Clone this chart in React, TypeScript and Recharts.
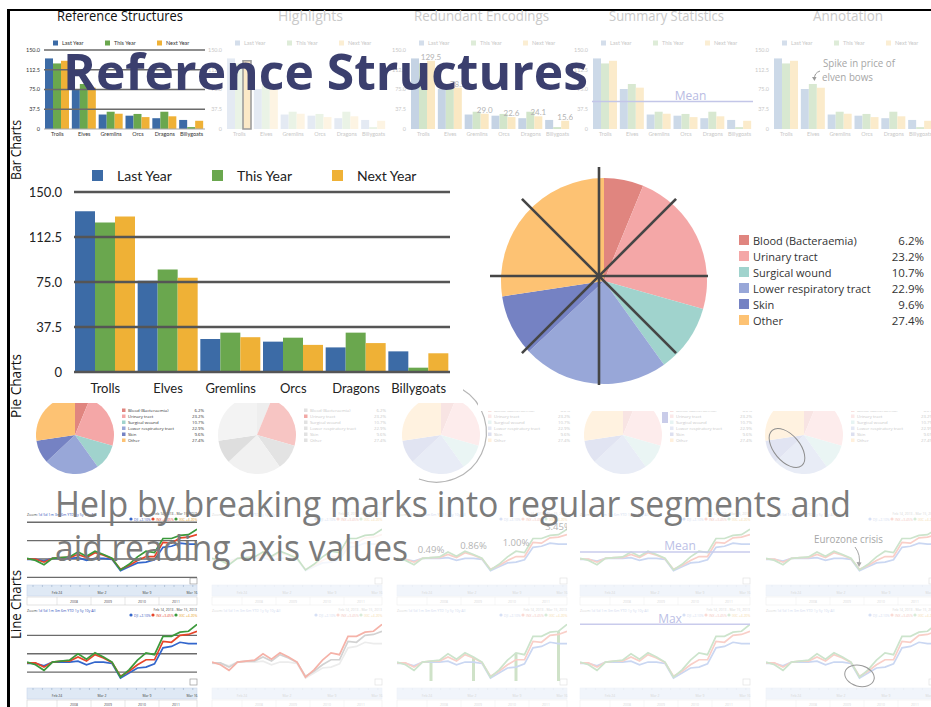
import React from 'react'
import {
  BarChart,
  Bar,
  XAxis,
  YAxis,
  ReferenceLine,
  ReferenceDot,
  LabelList,
  Cell,
  PieChart,
  Pie,
  LineChart,
  Line,
} from 'recharts'

// ---- bar data (creature sales) ----
const categories = ['Trolls', 'Elves', 'Gremlins', 'Orcs', 'Dragons', 'Billygoats']
const lastYear = [134, 76, 27.5, 25.3, 20.5, 17.2]
const thisYear = [124.5, 85.5, 32.8, 28.6, 32.8, 3.6]
const nextYear = [129.5, 78.5, 29.0, 22.6, 24.1, 15.6]
const seriesNames = ['Last Year', 'This Year', 'Next Year']
const yTicks = [0, 37.5, 75, 112.5, 150]
const meanValue = 52

// ---- pie data (infection sites) ----
const infections = ['Blood (Bacteraemia)', 'Urinary tract', 'Surgical wound', 'Lower respiratory tract', 'Skin', 'Other']
const shares = [6.2, 23.2, 10.7, 22.9, 9.6, 27.4]

// ---- line data (% change) ----
const dayLabels = ['Feb 14', 'Feb 15', 'Feb 19', 'Feb 20', 'Feb 21', 'Feb 22', 'Feb 25', 'Feb 26', 'Feb 27', 'Feb 28', 'Mar 1',
  'Mar 4', 'Mar 5', 'Mar 6', 'Mar 7', 'Mar 8', 'Mar 11', 'Mar 12', 'Mar 13', 'Mar 14', 'Mar 15']
const djiChange = [-0.05, -0.05, -0.3, 0.1, 0.1, 0.1, 0.2, -0.2, 0.1, 0.1, -0.05, -1.65, -1.1, -0.55, -0.45, -0.1, 1.65, 1.8, 2.25, 2.1, 2.1]
const inxChange = [0, 0, -0.45, 0.1, 0.2, 0.2, 0.65, 0.2, 0.9, 0.55, 0.05, -1.45, -0.9, -0.2, 0.35, 0.35, 2.35, 2.25, 3.0, 3.1, 3.45]
const ixicChange = [0.1, -0.2, -0.8, 0.1, 0.2, 0.3, 1.0, 0.4, 1.1, 0.65, 0.1, -1.55, -0.75, 0.3, 1.1, 0.9, 2.9, 2.9, 3.35, 3.45, 4.2]
const markedDays = [4, 9, 14, 19]
const markedText = ['0.49%', '0.86%', '1.00%', '3.45%']
const maxValue = 4.2
const lineMean = 1.0
const navDates = ['Feb 24', 'Mar 2', 'Mar 9', 'Mar 16']
const navYears = ['2008', '2009', '2010', '2011']

const barRows = categories.map((name, i) => ({ name, last: lastYear[i], this: thisYear[i], next: nextYear[i] }))
const pieRows = infections.map((name, i) => ({ name, value: shares[i] }))
const lineRows = dayLabels.map((day, i) => ({ day, dji: djiChange[i], inx: inxChange[i], ixic: ixicChange[i] }))

const BAR_COLORS = ['#3c6ba6', '#6aa74e', '#efb136']
const PIE_COLORS = ['#e0857f', '#f4a7a7', '#a0d3cd', '#98a7d8', '#7582c3', '#fdc273']
const LINE_COLORS = ['#3366cc', '#e6452a', '#3b993b']
const FONT = "'Open Sans', sans-serif"
const GILL = "Lato, sans-serif"

// blend a colour towards white
function mix(hex: string, t: number) {
  const n = parseInt(hex.slice(1), 16)
  const f = (c: number) => Math.round(c + (255 - c) * t)
  return `rgb(${f((n >> 16) & 255)},${f((n >> 8) & 255)},${f(n & 255)})`
}

const fmtTick = (v: number) => (v === 0 ? '0' : v.toFixed(1))

const barThumbX = [44, 226, 410, 592, 773]
const barVariants = ['ref', 'highlight', 'labels', 'mean', 'note']
const pieThumbX = [70, 252, 436, 618, 799]
const pieVariants = ['ref', 'highlight', 'labels', 'mean', 'note']
const lineThumbX = [27, 212, 397, 580, 766]
const lineGeo = [
  { zoomY: 516, plotTop: 520, plotBottom: 580, domain: [-2.97, 5.52], grid: [-2.6, 0, 2.6, 5.2], bandY: 585 },
  { zoomY: 612, plotTop: 620, plotBottom: 681, domain: [-1.96, 4.67], grid: [-1, 1, 3], bandY: 688 },
]
const lineVariants = [
  ['ref', 'hiGreen', 'labels', 'mean', 'note'],
  ['ref', 'hiRed', 'drops', 'max', 'circle'],
]

function BarThumb({ plotLeft, variant }: { plotLeft: number; variant: string }) {
  const faded = variant !== 'ref'
  const t = variant === 'highlight' ? 0.86 : variant === 'labels' ? 0.7 : 0.74
  const colors = faded ? BAR_COLORS.map((c) => mix(c, t)) : BAR_COLORS
  const text = faded ? '#c8c8c8' : '#333'
  return (
    <div style={{ position: 'absolute', left: plotLeft - 19, top: 36 }}>
      <BarChart width={182} height={106} data={barRows} margin={{ top: 14, right: 2, left: 4, bottom: 3 }} barCategoryGap={1} barGap={0}>
        <XAxis dataKey="name" interval={0} height={10} tickSize={2} tickMargin={1} tickLine={false}
          axisLine={faded ? false : { stroke: '#aaa' }} tick={{ fontSize: 5.5, fill: text, fontFamily: GILL }} />
        <YAxis domain={[0, 150]} ticks={yTicks} width={15} tickSize={3} tickMargin={1} tickLine={false} axisLine={false}
          tick={{ fontSize: 5.5, fill: text, fontFamily: GILL }} tickFormatter={fmtTick} />
        <Bar dataKey="last" fill={colors[0]} isAnimationActive={false} />
        <Bar dataKey="this" fill={colors[1]} isAnimationActive={false} />
        <Bar dataKey="next" fill={colors[2]} isAnimationActive={false}>
          {variant === 'highlight' && barRows.map((r, i) => (
            <Cell key={r.name} fill={i === 0 ? mix(BAR_COLORS[2], 0.72) : colors[2]} stroke={i === 0 ? '#9d9d9d' : 'none'} strokeWidth={1.6} />
          ))}
          {variant === 'labels' && (
            <LabelList dataKey="next" position="top" offset={1} fontSize={8} fill="#b3b3b3" fontFamily={GILL} formatter={(v: number) => v.toFixed(1)} />
          )}
        </Bar>
        {variant === 'ref' && yTicks.slice(1).map((v) => <ReferenceLine key={v} y={v} stroke="#6a6a6a" strokeWidth={1.3} />)}
        {variant === 'mean' && (
          <ReferenceLine y={meanValue} stroke="#c3c6e8" strokeWidth={1.5}
            label={{ value: 'Mean', position: 'top', offset: 2, dx: 18, fill: '#b8bbe3', fontSize: 12, fontFamily: FONT }} />
        )}
      </BarChart>
    </div>
  )
}

function PieThumb({ cx, variant }: { cx: number; variant: string }) {
  const grays = ['#eeeeee', '#f7c5c3', '#e3e3e3', '#f1f1f1', '#dedede', '#f3f3f3']
  const colors = variant === 'ref' ? PIE_COLORS : variant === 'highlight' ? grays : PIE_COLORS.map((c) => mix(c, 0.78))
  return (
    <div style={{ position: 'absolute', left: cx - 45, top: 388 }}>
      <PieChart width={92} height={86}>
        <Pie data={pieRows} dataKey="value" cx={45} cy={42} outerRadius={39} startAngle={90} endAngle={-270}
          stroke="none" isAnimationActive={false}>
          {pieRows.map((r, i) => <Cell key={r.name} fill={colors[i]} />)}
        </Pie>
      </PieChart>
    </div>
  )
}

function LineThumb({ x, geo, variant }: { x: number; geo: any; variant: string }) {
  let colors = LINE_COLORS
  if (variant === 'hiGreen') colors = [mix(LINE_COLORS[0], 0.94), mix(LINE_COLORS[1], 0.94), mix(LINE_COLORS[2], 0.72)]
  else if (variant === 'hiRed') colors = ['#ececec', '#d2d2d2', '#f5b2a8']
  else if (variant !== 'ref') colors = LINE_COLORS.map((c) => mix(c, 0.74))
  const keys = ['dji', 'inx', 'ixic']
  return (
    <div style={{ position: 'absolute', left: x, top: geo.plotTop - 8 }}>
      <LineChart width={170} height={geo.plotBottom - geo.plotTop + 20} data={lineRows} margin={{ top: 8, right: 0, bottom: 12, left: 0 }}>
        <XAxis dataKey="day" hide />
        <YAxis hide type="number" domain={geo.domain} allowDataOverflow />
        {variant === 'ref' && geo.grid.map((v: number) => <ReferenceLine key={v} y={v} stroke="#6b6b6b" strokeWidth={1.3} />)}
        {variant === 'drops' && markedDays.map((i) => (
          <ReferenceLine key={i} segment={[{ x: dayLabels[i], y: geo.domain[0] }, { x: dayLabels[i], y: ixicChange[i] }]}
            stroke="#cfe2c8" strokeWidth={3} ifOverflow="visible" />
        ))}
        {keys.map((k, i) => (
          <Line key={k} dataKey={k} stroke={colors[i]} strokeWidth={1.7} dot={false} isAnimationActive={false} />
        ))}
        {variant === 'labels' && markedDays.map((i, j) => (
          <ReferenceDot key={i} x={dayLabels[i]} y={ixicChange[i]} r={0} stroke="none"
            label={{ value: markedText[j], position: 'top', offset: 5, fill: '#b4b4b4', fontSize: 9.5, fontFamily: FONT }} />
        ))}
        {variant === 'mean' && (
          <ReferenceLine y={lineMean} stroke="#c9cbec" strokeWidth={1.5}
            label={{ value: 'Mean', position: 'top', offset: 2, dx: 15, fill: '#bcbfe6', fontSize: 12, fontFamily: FONT }} />
        )}
        {variant === 'max' && (
          <ReferenceLine y={maxValue} stroke="#c9cbec" strokeWidth={1.5}
            label={{ value: 'Max', position: 'top', offset: 1, dx: 5, fill: '#bcbfe6', fontSize: 12, fontFamily: FONT }} />
        )}
        {variant === 'circle' && (
          <ReferenceDot x={dayLabels[11]} y={-1.4} ifOverflow="visible"
            shape={(p: any) => (
              <ellipse cx={p.cx} cy={p.cy} rx={15} ry={10.5} fill="none" stroke="#9a9a9a" strokeWidth={1}
                transform={`rotate(15 ${p.cx} ${p.cy})`} />
            )} />
        )}
      </LineChart>
    </div>
  )
}

function lineChrome(x: number, geo: any, faded: boolean, key: string) {
  const blue = faded ? '#d4dcf0' : '#3355bb'
  const dark = faded ? '#d8d8d8' : '#444'
  const band = faded ? '#f1f5fb' : '#dfe9f5'
  return (
    <g key={key} fontFamily={FONT}>
      <text x={x} y={geo.zoomY} fontSize={3.6} fill={dark}>Zoom:</text>
      <text x={x + 11} y={geo.zoomY} fontSize={3.6} fill={blue}>1d 5d 1m 3m 6m YTD 1y 5y 10y All</text>
      <text x={x + 170} y={geo.zoomY - 1} fontSize={3.4} fill={dark} textAnchor="end">Feb 14, 2013 - Mar 15, 2013</text>
      <circle cx={x + 104} cy={geo.zoomY + 3} r={1.6} fill={faded ? mix(LINE_COLORS[0], 0.8) : LINE_COLORS[0]} />
      <text x={x + 107} y={geo.zoomY + 4.5} fontSize={3.4} fill={blue}>DJI +2.10%</text>
      <circle cx={x + 126} cy={geo.zoomY + 3} r={1.6} fill={faded ? mix(LINE_COLORS[1], 0.8) : LINE_COLORS[1]} />
      <text x={x + 129} y={geo.zoomY + 4.5} fontSize={3.4} fill={faded ? '#f3c7bd' : LINE_COLORS[1]}>INX +3.45%</text>
      <circle cx={x + 149} cy={geo.zoomY + 3} r={1.6} fill={faded ? mix(LINE_COLORS[2], 0.8) : LINE_COLORS[2]} />
      <text x={x + 152} y={geo.zoomY + 4.5} fontSize={3.4} fill={faded ? '#f6dcae' : '#e8a21b'}>IXIC +4.20%</text>
      <rect x={x + 163} y={geo.plotBottom - 2} width={7} height={6} fill="none" stroke={faded ? '#e2e2e2' : '#999'} strokeWidth={0.7} />
      <rect x={x} y={geo.bandY} width={170} height={11} fill={band} stroke={faded ? '#eef2f8' : '#c9d8ec'} strokeWidth={0.6} />
      {Array.from({ length: 18 }, (_, k) => (
        <line key={k} x1={x + 6 + k * 9.4} x2={x + 6 + k * 9.4} y1={geo.bandY} y2={geo.bandY + 2} stroke={faded ? '#e2e8f0' : '#8aa0bd'} strokeWidth={0.5} />
      ))}
      {navDates.map((d, k) => (
        <text key={d} x={x + 30 + k * 45} y={geo.bandY + 9} fontSize={3.4} fill={dark} textAnchor="middle">{d}</text>
      ))}
      <rect x={x} y={geo.bandY + 12} width={170} height={8} fill="#fff" stroke={faded ? '#eee' : '#cfcfcf'} strokeWidth={0.6} />
      {navYears.map((d, k) => (
        <g key={d}>
          <line x1={x + 30 + k * 34} x2={x + 30 + k * 34} y1={geo.bandY + 12} y2={geo.bandY + 20} stroke={faded ? '#eee' : '#ccc'} strokeWidth={0.5} />
          <text x={x + 47 + k * 34} y={geo.bandY + 18} fontSize={3.4} fill={dark} textAnchor="middle">{d}</text>
        </g>
      ))}
    </g>
  )
}

function Backdrop() {
  const headers = [
    { t: 'Reference Structures', x: 57, w: 126, c: '#111' },
    { t: 'Highlights', x: 278, w: 65, c: '#c9c9c9' },
    { t: 'Redundant Encodings', x: 414, w: 135, c: '#c9c9c9' },
    { t: 'Summary Statistics', x: 609, w: 115, c: '#c9c9c9' },
    { t: 'Annotation', x: 813, w: 70, c: '#c9c9c9' },
  ]
  const rowLabels = [
    { t: 'Bar Charts', y: 180, w: 60 },
    { t: 'Pie Charts', y: 418, w: 64 },
    { t: 'Line Charts', y: 639, w: 69 },
  ]
  return (
    <svg width={931} height={707} style={{ position: 'absolute', left: 0, top: 0 }}>
      <rect x={7} y={9} width={924} height={2} fill="#000" />
      <rect x={7} y={9} width={3} height={698} fill="#000" />
      {headers.map((h) => (
        <text key={h.t} x={h.x} y={21} fontSize={14} fill={h.c} fontFamily={FONT} textLength={h.w} lengthAdjust="spacingAndGlyphs">{h.t}</text>
      ))}
      {rowLabels.map((r) => (
        <text key={r.t} x={21} y={r.y} fontSize={14} fill="#111" fontFamily={FONT} textLength={r.w} lengthAdjust="spacingAndGlyphs"
          transform={`rotate(-90 21 ${r.y})`}>{r.t}</text>
      ))}
      {barThumbX.map((px, k) => (
        <g key={px} fontFamily={GILL}>
          {seriesNames.map((s, i) => (
            <g key={s}>
              <rect x={px + 9 + i * 52} y={40.5} width={5} height={5} fill={k === 0 ? BAR_COLORS[i] : mix(BAR_COLORS[i], 0.78)} />
              <text x={px + 18 + i * 52} y={45} fontSize={5.5} fill={k === 0 ? '#333' : '#c8c8c8'}>{s}</text>
            </g>
          ))}
        </g>
      ))}
      {pieThumbX.map((cx, k) => (
        <g key={cx} fontFamily={FONT}>
          {infections.map((n, i) => (
            <g key={n}>
              <rect x={cx + 52} y={408.5 + i * 6} width={3.5} height={3.5}
                fill={k === 0 ? PIE_COLORS[i] : k === 1 ? (i === 1 ? '#f2a9a6' : '#e2e2e2') : mix(PIE_COLORS[i], 0.75)} />
              <text x={cx + 58} y={411.8 + i * 6} fontSize={4.3} fill={k === 0 ? '#333' : '#cacaca'}>{n}</text>
              <text x={cx + 134} y={411.8 + i * 6} fontSize={4.3} fill={k === 0 ? '#333' : '#cacaca'} textAnchor="end">{shares[i].toFixed(1)}%</text>
            </g>
          ))}
        </g>
      ))}
      {lineGeo.map((g, r) => lineThumbX.map((x, k) => lineChrome(x, g, k !== 0, `${r}-${k}`)))}
    </svg>
  )
}

function Annotations() {
  return (
    <svg width={931} height={707} style={{ position: 'absolute', left: 0, top: 0, pointerEvents: 'none' }}>
      <g fontFamily={FONT} fill="#a6a6a6">
        <text x={823} y={67} fontSize={11.5} textLength={72} lengthAdjust="spacingAndGlyphs">Spike in price of</text>
        <text x={822} y={81} fontSize={11.5} textLength={51} lengthAdjust="spacingAndGlyphs">elven bows</text>
        <text x={814} y={543} fontSize={11.5} textLength={69} lengthAdjust="spacingAndGlyphs">Eurozone crisis</text>
      </g>
      <path d="M820 71 Q814 73 814.5 79" fill="none" stroke="#9a9a9a" strokeWidth={1} />
      <path d="M812 77 L814.5 81 L816.5 77 Z" fill="#9a9a9a" />
      <path d="M855 547 Q861 555 859 565" fill="none" stroke="#a6a6a6" strokeWidth={1} />
      <path d="M856.5 562 L859 567 L861.5 562.5 Z" fill="#a6a6a6" />
      <path d="M 461.8 389.1 A 50 50 0 0 1 418.9 479" fill="none" stroke="#b5b5b5" strokeWidth={1.2} />
      <rect x={662} y={412} width={6} height={11} fill="#c9cce9" />
      <ellipse cx={787} cy={448} rx={23} ry={13} fill="none" stroke="#8d8d8d" strokeWidth={1}
        transform="rotate(50 787 448)" />
    </svg>
  )
}

function MainBars() {
  return (
    <div style={{ position: 'absolute', left: 30, top: 153, width: 433, height: 250, background: '#fff' }}>
      <BarChart width={433} height={250} data={barRows} margin={{ top: 39, right: 13, left: 0, bottom: 0 }} barCategoryGap={1} barGap={0}>
        <XAxis dataKey="name" interval={0} height={31} tickMargin={6} tickLine={false}
          axisLine={{ stroke: '#555', strokeWidth: 2.5 }} tick={{ fontSize: 13, fill: '#222', fontFamily: GILL }} />
        <YAxis domain={[0, 150]} ticks={yTicks} width={44} tickMargin={6} tickLine={false} axisLine={false}
          tick={{ fontSize: 13, fill: '#222', fontFamily: GILL }} tickFormatter={fmtTick} />
        <Bar dataKey="last" fill={BAR_COLORS[0]} isAnimationActive={false} />
        <Bar dataKey="this" fill={BAR_COLORS[1]} isAnimationActive={false} />
        <Bar dataKey="next" fill={BAR_COLORS[2]} isAnimationActive={false} />
        {yTicks.slice(1).map((v) => <ReferenceLine key={v} y={v} stroke="#555" strokeWidth={2.5} />)}
      </BarChart>
      {seriesNames.map((s, i) => (
        <div key={s} style={{ position: 'absolute', left: 62 + i * 120, top: 10, height: 24, display: 'flex', alignItems: 'center', fontFamily: GILL, fontSize: 14, color: '#222' }}>
          <span style={{ width: 11, height: 11, background: BAR_COLORS[i], marginRight: 14 }} />
          {s}
        </div>
      ))}
    </div>
  )
}

function MainPie() {
  const cx = 121
  const cy = 123
  const spokes = [0, 45, 90, 135]
  return (
    <div style={{ position: 'absolute', left: 478, top: 153, width: 453, height: 258, background: '#fff' }}>
      <PieChart width={300} height={258}>
        <Pie data={pieRows} dataKey="value" cx={cx} cy={cy} outerRadius={103} startAngle={90} endAngle={-270}
          stroke="none" isAnimationActive={false}>
          {pieRows.map((r, i) => <Cell key={r.name} fill={PIE_COLORS[i]} />)}
        </Pie>
      </PieChart>
      <svg width={300} height={258} style={{ position: 'absolute', left: 0, top: 0 }}>
        {spokes.map((a) => {
          const rad = (a * Math.PI) / 180
          const dx = Math.sin(rad) * 109
          const dy = Math.cos(rad) * 109
          return <line key={a} x1={cx - dx} y1={cy - dy} x2={cx + dx} y2={cy + dy} stroke="#454545" strokeWidth={2.6} />
        })}
      </svg>
      {infections.map((n, i) => (
        <div key={n} style={{ position: 'absolute', left: 261, top: 79 + i * 16, width: 185, height: 16, display: 'flex', alignItems: 'center', fontFamily: FONT, fontSize: 11, color: '#333' }}>
          <span style={{ width: 10, height: 10, background: PIE_COLORS[i], marginRight: 4 }} />
          <span style={{ flex: 1 }}>{n}</span>
          <span style={{ fontSize: 11.5 }}>{shares[i].toFixed(1)}%</span>
        </div>
      ))}
    </div>
  )
}

function Overlay() {
  return (
    <svg width={931} height={707} style={{ position: 'absolute', left: 0, top: 0, pointerEvents: 'none' }}>
      <text x={63} y={90} fontSize={50} fontWeight={700} fill="#3b3f6e" fontFamily={FONT} textLength={525} lengthAdjust="spacingAndGlyphs">
        Reference Structures
      </text>
      <text x={55} y={517} fontSize={36} fill="#7b7b7b" fontFamily={FONT} textLength={796} lengthAdjust="spacingAndGlyphs">
        Help by breaking marks into regular segments and
      </text>
      <text x={55} y={561} fontSize={36} fill="#7b7b7b" fontFamily={FONT} textLength={353} lengthAdjust="spacingAndGlyphs">
        aid reading axis values
      </text>
    </svg>
  )
}

export default function App() {
  return (
    <div style={{ position: 'absolute', left: 0, top: 0, width: 931, height: 707, background: '#fff', overflow: 'hidden' }}>
      <Backdrop />
      {barThumbX.map((px, i) => <BarThumb key={px} plotLeft={px} variant={barVariants[i]} />)}
      {pieThumbX.map((cx, i) => <PieThumb key={cx} cx={cx} variant={pieVariants[i]} />)}
      {lineGeo.map((g, r) => lineThumbX.map((x, i) => <LineThumb key={`${r}-${x}`} x={x} geo={g} variant={lineVariants[r][i]} />))}
      <Annotations />
      <MainBars />
      <MainPie />
      <Overlay />
    </div>
  )
}
